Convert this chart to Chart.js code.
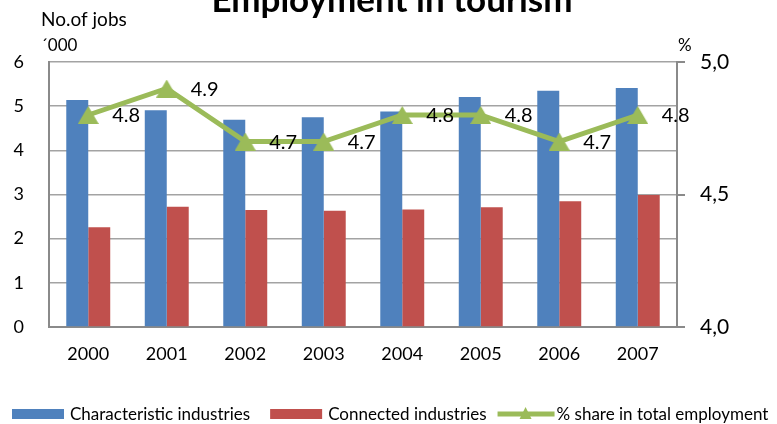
<!DOCTYPE html>
<html>
<head>
<meta charset="utf-8">
<title>Employment in tourism</title>
<script src="https://cdn.jsdelivr.net/npm/chart.js@4"></script>
<style>
  html, body { margin: 0; padding: 0; background: #fff; overflow: hidden; }
  #wrap { width: 777px; height: 424px; position: relative; }
</style>
</head>
<body>
<div id="wrap"><canvas id="tourismChart" width="777" height="424"></canvas></div>
<script>
// jobs in thousands, share in percent
const years = ["2000", "2001", "2002", "2003", "2004", "2005", "2006", "2007"];
const characteristic = [5.14, 4.91, 4.69, 4.75, 4.88, 5.21, 5.35, 5.41];
const connected = [2.26, 2.72, 2.65, 2.63, 2.66, 2.71, 2.85, 2.99];
const shareTotal = [4.8, 4.9, 4.7, 4.7, 4.8, 4.8, 4.7, 4.8];

const seriesNames = ["Characteristic industries", "Connected industries", "% share in total employment"];
const chartTitle = "Employment in tourism";
const leftTitle = ["No.of jobs", "´000"];
const rightTitle = "%";

const BLUE = "#4f81bd", RED = "#c0504d", GREEN = "#9bbb59";
const FONT = "Lato, 'Open Sans', sans-serif";

function triangle(w, h, color) {
  const c = document.createElement("canvas");
  c.width = w; c.height = h;
  const g = c.getContext("2d");
  g.fillStyle = color;
  g.beginPath();
  g.moveTo(w / 2, 0);
  g.lineTo(w, h);
  g.lineTo(0, h);
  g.closePath();
  g.fill();
  return c;
}

const marker = triangle(21, 18, GREEN);

// value labels to the right of each line point
const pointLabels = {
  id: "pointLabels",
  afterDatasetsDraw(chart) {
    const ctx = chart.ctx;
    const meta = chart.getDatasetMeta(2);
    ctx.save();
    ctx.font = "20px " + FONT;
    ctx.fillStyle = "#000";
    ctx.textAlign = "left";
    ctx.textBaseline = "middle";
    meta.data.forEach((pt, i) => {
      ctx.fillText(shareTotal[i].toFixed(1), pt.x + 24, pt.y + 1);
    });
    ctx.restore();
  }
};

// title, axis captions and the legend row
const decorations = {
  id: "decorations",
  afterDraw(chart) {
    const ctx = chart.ctx;
    const area = chart.chartArea;
    ctx.save();
    ctx.fillStyle = "#000";

    ctx.font = "bold 35px " + FONT;
    ctx.textAlign = "center";
    ctx.textBaseline = "alphabetic";
    ctx.fillText(chartTitle, 392, 12);

    ctx.textAlign = "left";
    ctx.textBaseline = "middle";
    ctx.font = "19px " + FONT;
    ctx.fillText(leftTitle[0], 41, 20);
    ctx.font = "17px " + FONT;
    ctx.fillText(leftTitle[1], 41, 46);
    ctx.fillText(rightTitle, area.right + 1, 46);

    // legend
    ctx.font = "17px " + FONT;
    const ly = 414;
    let x = 12;
    chart.data.datasets.forEach((ds, i) => {
      if (ds.type === "line") {
        ctx.strokeStyle = GREEN;
        ctx.lineWidth = 5;
        ctx.beginPath();
        ctx.moveTo(x, ly);
        ctx.lineTo(x + 57, ly);
        ctx.stroke();
        ctx.fillStyle = GREEN;
        ctx.beginPath();
        ctx.moveTo(x + 28, ly - 7);
        ctx.lineTo(x + 34, ly + 5);
        ctx.lineTo(x + 22, ly + 5);
        ctx.closePath();
        ctx.fill();
        x += 59;
      } else {
        ctx.fillStyle = ds.backgroundColor;
        ctx.fillRect(x, ly - 5, 52, 10);
        x += 58;
      }
      ctx.fillStyle = "#000";
      ctx.fillText(ds.label, x, ly + 1);
      const next = chart.data.datasets[i + 1];
      x += ctx.measureText(ds.label).width + (next && next.type === "line" ? 11 : 20);
    });
    ctx.restore();
  }
};

const GRID = "#a3a3a3", AXIS = "#8a8a8a";

new Chart(document.getElementById("tourismChart"), {
  data: {
    labels: years,
    datasets: [
      { type: "bar", label: seriesNames[0], data: characteristic, backgroundColor: BLUE, yAxisID: "y", order: 1 },
      { type: "bar", label: seriesNames[1], data: connected, backgroundColor: RED, yAxisID: "y", order: 1 },
      {
        type: "line", label: seriesNames[2], data: shareTotal, yAxisID: "y1", order: 0,
        borderColor: GREEN, borderWidth: 5, tension: 0, fill: false,
        pointStyle: marker, pointRadius: 10, pointHoverRadius: 10
      }
    ]
  },
  options: {
    responsive: false,
    animation: false,
    devicePixelRatio: 1,
    layout: { padding: { left: 13, right: 0, top: 62, bottom: 61 } },
    datasets: { bar: { categoryPercentage: 0.56, barPercentage: 1.0 } },
    plugins: { legend: { display: false }, tooltip: { enabled: false } },
    scales: {
      x: {
        grid: { drawOnChartArea: false, drawTicks: false },
        border: { display: true, color: AXIS, width: 2 },
        ticks: { color: "#000", padding: 16, font: { family: FONT, size: 18 } },
        afterFit(s) { s.height = 36; }
      },
      y: {
        position: "left", min: 0, max: 6,
        grid: { color: GRID, lineWidth: 1.5, drawTicks: false },
        border: { display: true, color: AXIS, width: 2 },
        ticks: { stepSize: 1, color: "#000", padding: 25, font: { family: FONT, size: 18 } },
        afterFit(s) { s.width = 36; }
      },
      y1: {
        position: "right", min: 4, max: 5,
        grid: { drawOnChartArea: false, drawTicks: true, tickLength: 8, color: AXIS, lineWidth: 2 },
        border: { display: true, color: AXIS, width: 2 },
        ticks: {
          stepSize: 0.5, color: "#000", padding: 15, font: { family: FONT, size: 21 },
          callback: v => v.toFixed(1).replace(".", ",")
        },
        afterFit(s) { s.width = 100; }
      }
    }
  },
  plugins: [pointLabels, decorations]
});
</script>
</body>
</html>
